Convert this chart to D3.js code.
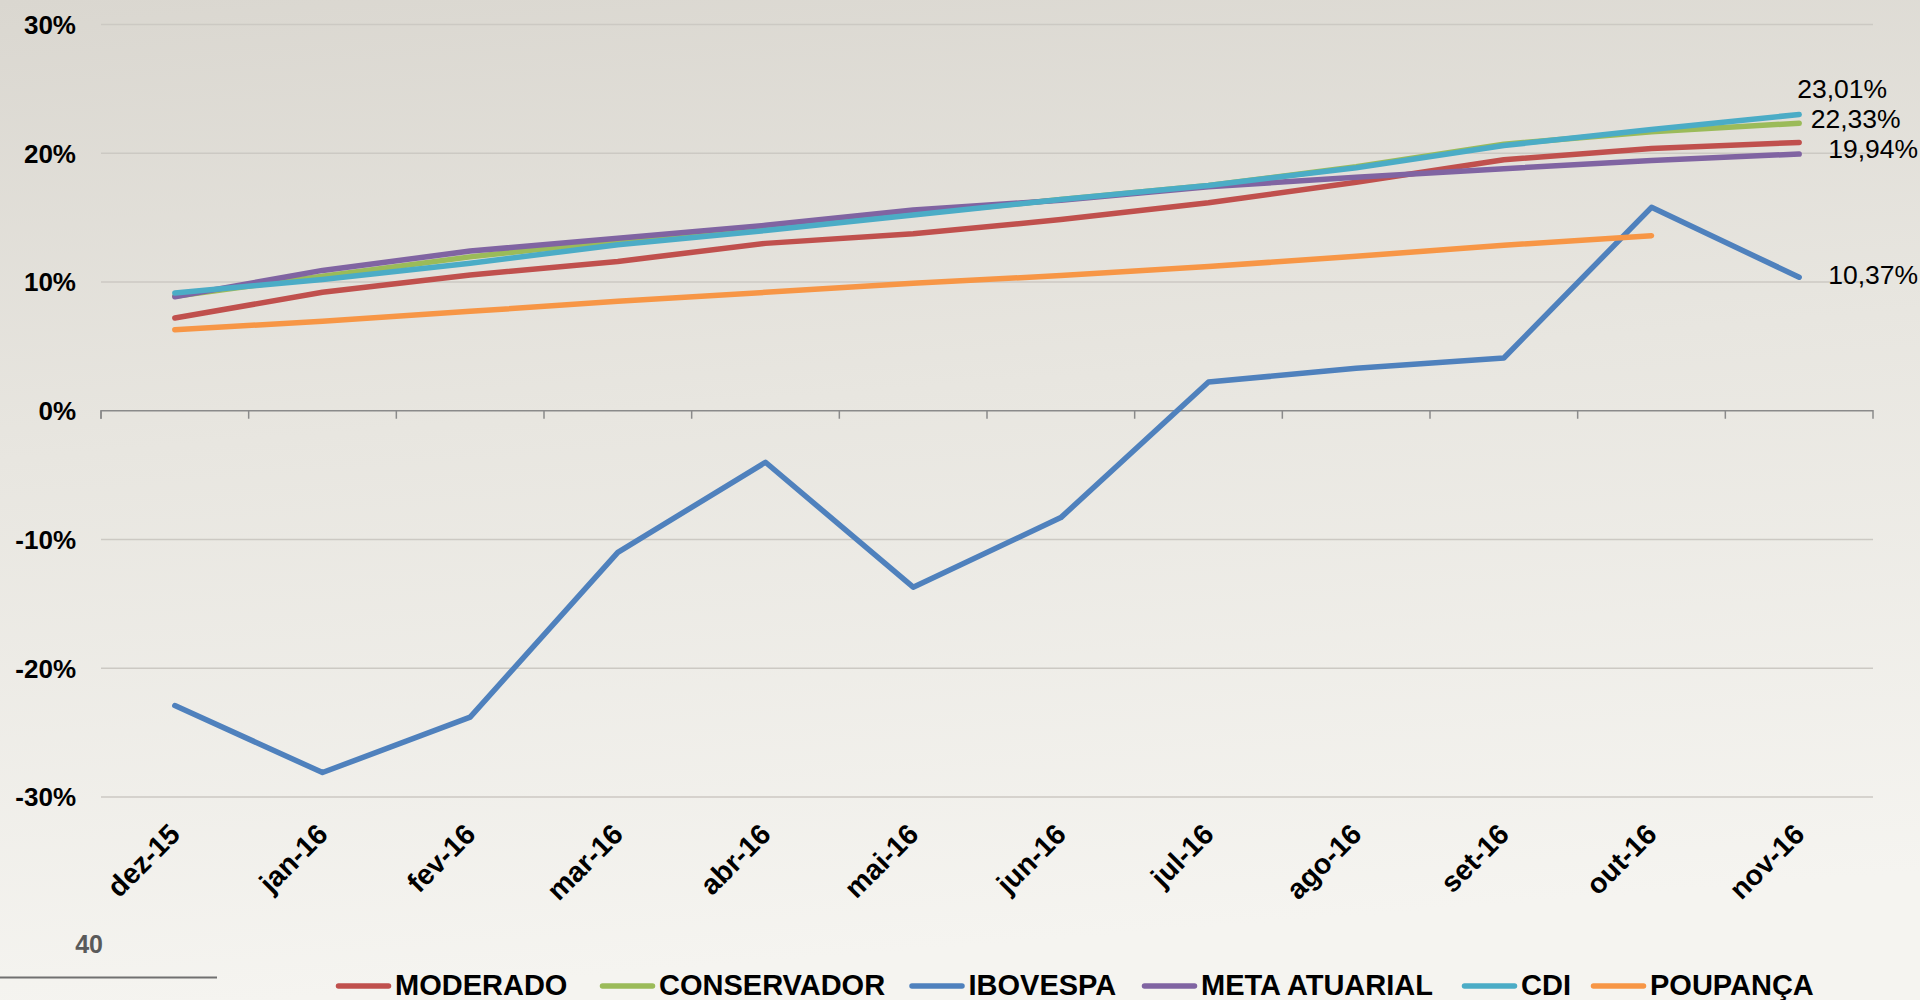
<!DOCTYPE html>
<html>
<head>
<meta charset="utf-8">
<script src="https://cdn.jsdelivr.net/npm/d3@7"></script>
<style>
  html, body { margin: 0; padding: 0; overflow: hidden; }
  svg { display: block; font-family: "Liberation Sans", Arial, sans-serif; }
</style>
</head>
<body>
<svg id="chart" width="1920" height="1000"></svg>
<script>
// ---------------- DATA ----------------
const categories = ["dez-15","jan-16","fev-16","mar-16","abr-16","mai-16","jun-16","jul-16","ago-16","set-16","out-16","nov-16"];
const moderado     = [7.2, 9.2, 10.55, 11.6, 13.0, 13.74, 14.85, 16.15, 17.75, 19.5, 20.37, 20.84];
const conservador  = [8.9, 10.45, 11.95, 13.2, 14.2, 15.3, 16.4, 17.5, 18.95, 20.7, 21.67, 22.33];
const ibovespa     = [-22.9, -28.1, -23.8, -11.0, -4.0, -13.7, -8.3, 2.23, 3.3, 4.1, 15.8, 10.37];
const metaAtuarial = [8.85, 10.9, 12.4, 13.4, 14.4, 15.6, 16.35, 17.4, 18.14, 18.8, 19.44, 19.94];
const cdi          = [9.15, 10.2, 11.45, 12.9, 14.0, 15.2, 16.4, 17.5, 18.87, 20.6, 21.85, 23.01];
const poupanca     = [6.3, 6.95, 7.72, 8.5, 9.2, 9.9, 10.5, 11.2, 12.0, 12.85, 13.6, null];
const seriesNames  = ["MODERADO","CONSERVADOR","IBOVESPA","META ATUARIAL","CDI","POUPANÇA"];
const seriesValues = [moderado, conservador, ibovespa, metaAtuarial, cdi, poupanca];
const seriesColors = ["#c0504d","#9bbb59","#4f81bd","#8064a2","#4bacc6","#f79646"];
const yTicks = [-30, -20, -10, 0, 10, 20, 30];
const labeledSeries = ["CDI","CONSERVADOR","META ATUARIAL","IBOVESPA"];
const pageNumber = "40";

// ---------------- DRAW ----------------
const svg = d3.select("#chart");
const defs = svg.append("defs");
const bg = defs.append("linearGradient").attr("id","bg").attr("x1",0).attr("y1",0).attr("x2",0.15).attr("y2",1);
bg.append("stop").attr("offset","0%").attr("stop-color","#dad7d0");
bg.append("stop").attr("offset","45%").attr("stop-color","#e8e6e0");
bg.append("stop").attr("offset","100%").attr("stop-color","#f5f4f0");
svg.append("rect").attr("width",1920).attr("height",1000).attr("fill","url(#bg)");

const left = 101, right = 1873;
const x = d3.scaleBand().domain(categories).range([left, right]).padding(0);
const cx = c => x(c) + x.bandwidth() / 2;
const y = d3.scaleLinear().domain([-30, 30]).range([797, 24.5]);

// gridlines
svg.append("g").selectAll("line").data(yTicks.filter(t => t !== 0)).join("line")
  .attr("x1", left).attr("x2", right)
  .attr("y1", d => y(d)).attr("y2", d => y(d))
  .attr("stroke", "#ccc9c3").attr("stroke-width", 1.5);

// y labels
svg.append("g").selectAll("text").data(yTicks).join("text")
  .attr("x", 76).attr("y", d => y(d)).attr("dy", "0.36em")
  .attr("text-anchor", "end").attr("font-weight", "bold").attr("font-size", 26).attr("fill", "#000")
  .text(d => d + "%");

// category axis at zero
const xAxis = d3.axisBottom(x).tickSize(8).tickFormat("").tickSizeOuter(8);
const axG = svg.append("g").attr("transform", `translate(0,${y(0)})`).call(xAxis);
axG.select(".domain").attr("stroke", "#8a8a8a").attr("stroke-width", 1.5).attr("d", `M${left},8V0H${right}V8`);
axG.selectAll(".tick line").attr("stroke", "#8a8a8a").attr("stroke-width", 1.5)
  .attr("transform", `translate(${-x.bandwidth()/2},0)`);

// x labels at bottom
svg.append("g").selectAll("text").data(categories).join("text")
  .attr("transform", d => `translate(${cx(d) + 7},836) rotate(-45)`)
  .attr("text-anchor", "end").attr("font-weight", "bold").attr("font-size", 28.5).attr("fill", "#000")
  .text(d => d);

// lines
const line = d3.line()
  .defined(d => d.v !== null)
  .x(d => cx(d.c)).y(d => y(d.v));
seriesNames.forEach((name, i) => {
  const pts = categories.map((c, j) => ({c, v: seriesValues[i][j]}));
  svg.append("path").datum(pts)
    .attr("d", line).attr("fill", "none")
    .attr("stroke", seriesColors[i]).attr("stroke-width", 5.5)
    .attr("stroke-linecap", "round").attr("stroke-linejoin", "round");
});

// end labels
const labelOffsets = {"CDI": [-2, -16.6], "CONSERVADOR": [11.5, 5], "META ATUARIAL": [29, 3.8], "IBOVESPA": [29, 6.4]};
const fmt = v => d3.format(".2f")(v).replace(".", ",") + "%";
const last = categories[categories.length - 1];
svg.append("g").selectAll("text").data(labeledSeries).join("text")
  .attr("x", d => cx(last) + labelOffsets[d][0])
  .attr("y", d => y(seriesValues[seriesNames.indexOf(d)][categories.length - 1]) + labelOffsets[d][1])
  .attr("font-size", 26.5).attr("fill", "#000")
  .text(d => fmt(seriesValues[seriesNames.indexOf(d)][categories.length - 1]));

// legend
const legendX = [336, 600, 909.5, 1142, 1462, 1591];
const lg = svg.append("g");
seriesNames.forEach((name, i) => {
  const lx = legendX[i];
  lg.append("line").attr("x1", lx + 2.5).attr("x2", lx + 52.5).attr("y1", 986).attr("y2", 986)
    .attr("stroke", seriesColors[i]).attr("stroke-width", 5.5).attr("stroke-linecap", "round");
  lg.append("text").attr("x", lx + 59).attr("y", 995)
    .attr("font-weight", "bold").attr("font-size", 29).attr("fill", "#000").text(name);
});

// page number and footer rule
svg.append("text").attr("x", 103).attr("y", 953).attr("text-anchor", "end")
  .attr("font-weight", "bold").attr("font-size", 25).attr("fill", "#5a5a5a").text(pageNumber);
svg.append("line").attr("x1", 0).attr("x2", 217).attr("y1", 977.5).attr("y2", 977.5)
  .attr("stroke", "#707070").attr("stroke-width", 2);
</script>
</body>
</html>
